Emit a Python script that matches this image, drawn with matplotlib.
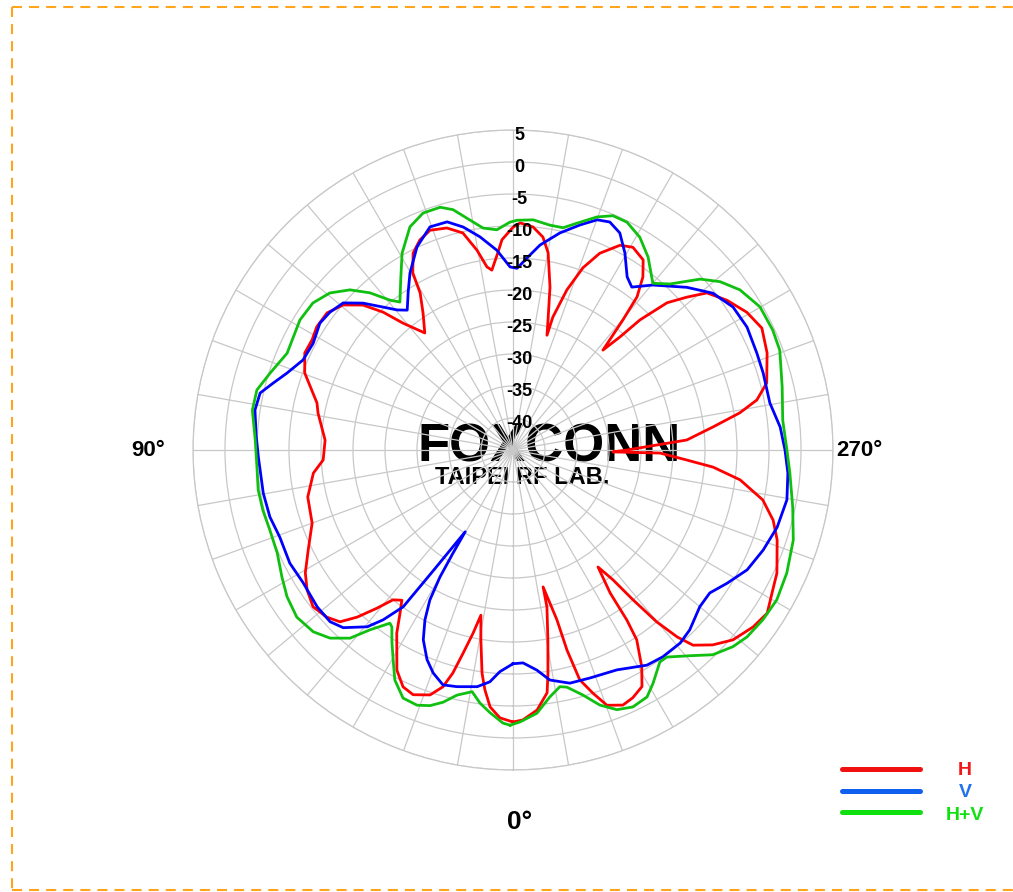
import numpy as np
import matplotlib
matplotlib.use('Agg')
import matplotlib.pyplot as plt
from matplotlib.lines import Line2D
from matplotlib.transforms import offset_copy

# Antenna pattern, angle in degrees, gain in dB
H_ANGLE = [0.0, 2.8, 5.1, 6.7, 7.9, 9.6, 11.0, 12.3, 13.8, 15.1,
           16.5, 18.7, 22.2, 24.9, 27.8, 32.4, 34.7, 36.5, 38.7, 40.7,
           43.0, 45.2, 48.1, 51.9, 55.8, 59.4, 64.0, 70.0, 77.1, 83.4,
           87.0, 93.0, 100.7, 103.5, 110.3, 115.0, 118.7, 122.1, 126.4, 130.5,
           134.0, 136.7, 139.1, 143.0, 146.7, 149.4, 150.5, 153.1, 156.1, 159.3,
           163.4, 167.0, 169.8, 171.9, 173.3, 175.6, 177.0, 180.0, 181.8, 185.1,
           188.0, 190.1, 192.8, 195.1, 196.5, 196.7, 198.6, 201.0, 203.8, 207.6,
           210.6, 214.4, 216.9, 219.0, 220.2, 222.0, 223.4, 224.3, 226.3, 228.7,
           231.0, 235.0, 239.5, 243.9, 249.1, 255.2, 258.4, 260.7, 263.4, 266.7,
           268.0, 270.0, 271.1, 271.2, 273.3, 274.9, 277.5, 281.3, 285.1, 288.8,
           295.0, 298.3, 302.7, 306.4, 310.8, 314.3, 317.3, 318.7, 320.1, 321.3,
           322.4, 324.0, 325.8, 326.2, 326.9, 329.3, 331.4, 334.2, 336.7, 339.8,
           341.8, 343.8, 344.9, 345.5, 347.6, 347.8, 349.6, 351.1, 352.0, 354.7,
           357.9, 360.0]
H_DB = [-2.5, -3.1, -4.7, -7.3, -9.8, -14.9, -18.7, -15.7, -12.3, -8.9,
        -6.4, -4.6, -3.7, -4.2, -6.1, -11.1, -14.0, -15.8, -15.0, -12.4,
        -9.3, -6.9, -5.9, -5.3, -6.1, -7.3, -9.4, -11.6, -12.1, -13.6,
        -15.3, -15.6, -14.0, -13.5, -10.3, -9.1, -9.2, -8.8, -8.9, -10.1,
        -12.4, -15.4, -18.8, -22.1, -19.4, -16.5, -13.2, -10.5, -9.1, -8.3,
        -8.8, -10.2, -13.3, -16.1, -16.7, -14.1, -12.1, -10.2, -9.5, -10.0,
        -11.4, -13.7, -18.9, -24.0, -26.3, -23.3, -18.6, -14.5, -11.4, -8.9,
        -8.2, -9.0, -11.2, -14.2, -18.4, -24.0, -20.7, -16.6, -11.7, -8.8,
        -6.0, -4.2, -2.6, -1.7, -2.5, -4.0, -6.1, -9.1, -13.5, -17.8,
        -22.5, -27.2, -29.4, -22.0, -17.8, -13.6, -9.2, -5.2, -2.9, -1.4,
        0.5, 1.1, 2.2, 1.6, 0.4, -1.4, -3.5, -6.1, -10.0, -15.0,
        -19.4, -22.4, -18.0, -13.0, -9.6, -5.6, -2.9, -2.0, -1.6, -2.5,
        -5.0, -7.6, -12.6, -17.6, -23.1, -19.9, -14.8, -9.7, -6.7, -4.2,
        -2.8, -2.5]

V_ANGLE = [0.0, 3.4, 5.7, 8.6, 13.3, 16.6, 19.7, 22.3, 25.3, 27.4,
           29.0, 29.9, 30.2, 30.3, 33.4, 35.0, 37.4, 39.5, 43.7, 46.8,
           51.3, 57.7, 63.1, 69.5, 74.6, 80.2, 88.4, 93.3, 98.8, 102.7,
           105.6, 108.8, 113.2, 118.1, 123.3, 127.0, 130.9, 134.4, 137.7, 140.4,
           142.9, 146.4, 149.8, 154.7, 159.6, 163.9, 167.4, 171.2, 175.4, 179.1,
           181.3, 184.2, 187.5, 192.2, 196.6, 200.1, 203.0, 206.2, 209.6, 213.4,
           216.1, 220.3, 226.9, 231.9, 237.0, 242.3, 248.3, 252.9, 259.6, 265.1,
           270.0, 274.8, 280.3, 286.3, 291.8, 297.1, 301.9, 306.0, 310.0, 315.5,
           319.1, 324.1, 328.1, 334.7, 341.3, 346.3, 350.9, 353.8, 357.3, 360.0]
V_DB = [-11.6, -10.3, -8.6, -7.6, -7.0, -6.7, -8.0, -9.6, -12.2, -15.1,
        -18.2, -22.1, -26.4, -30.2, -22.6, -15.1, -11.6, -9.2, -6.6, -5.8,
        -5.8, -6.2, -5.9, -6.1, -5.6, -5.4, -5.2, -4.8, -4.2, -4.5,
        -6.1, -7.7, -9.3, -9.6, -8.9, -9.2, -9.9, -12.2, -14.8, -16.6,
        -17.6, -15.4, -13.0, -9.9, -7.8, -7.9, -9.3, -11.3, -13.7, -16.4,
        -16.6, -14.9, -12.7, -10.3, -8.3, -6.7, -6.3, -7.2, -9.6, -12.6,
        -13.5, -11.2, -7.8, -5.3, -4.0, -3.7, -4.0, -4.1, -4.2, -3.1,
        -2.5, -1.9, -1.5, -2.0, -2.9, -3.9, -5.6, -7.0, -6.9, -5.6,
        -5.1, -5.1, -5.4, -7.0, -7.4, -7.5, -8.6, -10.4, -11.7, -11.6]

HV_ANGLE = [0.6, 2.1, 5.0, 7.4, 9.6, 12.9, 15.5, 18.0, 20.6, 23.9,
            27.2, 30.1, 32.2, 34.4, 35.4, 38.5, 40.9, 44.2, 47.7, 52.3,
            57.0, 61.2, 66.4, 71.8, 76.5, 81.1, 86.2, 92.2, 98.7, 103.2,
            107.6, 113.2, 121.4, 126.3, 130.6, 134.5, 137.7, 140.6, 142.6, 146.9,
            150.6, 155.2, 159.2, 163.3, 166.0, 168.8, 172.3, 175.8, 179.2, 181.0,
            185.0, 189.3, 192.7, 195.7, 199.8, 203.1, 206.6, 210.8, 215.0, 220.0,
            223.4, 227.6, 230.9, 234.8, 239.9, 245.2, 249.5, 256.8, 263.7, 270.0,
            274.7, 281.5, 287.8, 294.2, 299.6, 304.2, 308.6, 311.8, 315.7, 319.3,
            323.4, 325.3, 329.0, 331.5, 335.0, 338.2, 341.2, 344.1, 347.2, 348.8,
            351.5, 354.8, 358.5, 360.6]
HV_DB = [-2.0, -2.3, -3.8, -5.1, -6.7, -5.7, -4.1, -3.0, -2.4, -2.6,
         -4.6, -7.6, -9.5, -11.5, -11.8, -9.1, -6.1, -4.0, -2.8, -2.3,
         -2.9, -3.8, -4.8, -5.0, -4.8, -4.7, -4.9, -4.7, -3.8, -3.9,
         -5.2, -6.6, -6.0, -6.2, -7.3, -9.3, -11.8, -14.7, -15.9, -12.9,
         -9.7, -6.6, -5.4, -5.4, -6.3, -8.1, -10.0, -10.5, -9.4, -9.1,
         -8.9, -9.4, -9.4, -8.2, -6.3, -5.2, -5.2, -6.3, -8.2, -11.0,
         -9.3, -5.4, -3.3, -1.6, -0.4, -0.3, -0.5, -1.8, -2.6, -2.2,
         -1.6, -0.4, 1.0, 1.9, 2.4, 2.2, 1.8, 1.1, -0.3, -2.6,
         -4.7, -4.7, -2.5, -1.1, -0.7, -1.3, -2.9, -5.2, -7.0, -7.3,
         -6.0, -3.7, -2.5, -2.0]

R_TICKS = [5, 0, -5, -10, -15, -20, -25, -30, -35, -40]
ANGLE_LABELS = ['90°', '270°', '0°']

SERIES = [('H', H_ANGLE, H_DB, '#FF0000'),
          ('V', V_ANGLE, V_DB, '#0000FF'),
          ('H+V', HV_ANGLE, HV_DB, '#10C010')]

plt.rcParams['font.family'] = ['Liberation Sans', 'DejaVu Sans']

W, H = 1013, 892
fig = plt.figure(figsize=(W / 100, H / 100), dpi=100)
fig.patch.set_facecolor('white')

#--------------------------------------------------------------------------
# dashed orange frame
#
fx = lambda px: px / W
fy = lambda py: 1 - py / H
frame = dict(color='#FFA41C', lw=1.5, dashes=(4.8, 3.4), transform=fig.transFigure)
fig.add_artist(Line2D([fx(12), 1.0], [fy(7), fy(7)], **frame))
fig.add_artist(Line2D([fx(12), fx(12)], [fy(7), fy(890)], **frame))
fig.add_artist(Line2D([fx(12), 1.0], [fy(890), fy(890)], **frame))

#--------------------------------------------------------------------------
# polar plot
#
ax = fig.add_axes([fx(193), fy(770), 640 / W, 640 / H], projection='polar')
ax.set_theta_zero_location('S')
ax.set_theta_direction(-1)
ax.set_ylim(-45, 5)
ax.set_yticks(np.arange(-45, 6, 5))
ax.set_yticklabels([])
ax.set_xticks(np.radians(np.arange(0, 360, 10)))
ax.set_xticklabels([])
ax.set_axisbelow(True)
ax.grid(True, color='#C8C8C8', lw=0.9)
ax.spines['polar'].set_color('#C8C8C8')
ax.spines['polar'].set_linewidth(0.9)

for name, ang, db, col in SERIES:
    ax.plot(np.radians(ang), db, color=col, lw=2.0, zorder=3)

# radial scale along the top spoke
lbl_tr = offset_copy(ax.transData, fig=fig, x=6, y=-5, units='dots')
for v in R_TICKS:
    ax.text(np.pi, v, str(v), transform=lbl_tr, ha='center', va='center',
            fontsize=13, fontweight='bold', color='black', zorder=4)

# watermark (under the grid)
ax.text(fx(549), fy(461), 'FOXCONN', transform=fig.transFigure, ha='center',
        va='baseline', fontsize=38, fontweight='bold', color='black', zorder=0.1)
ax.text(fx(522), fy(484), 'TAIPEI RF LAB.', transform=fig.transFigure, ha='center',
        va='baseline', fontsize=17, fontweight='bold', color='black', zorder=0.1)

# angle labels
fig.text(fx(148), fy(456), ANGLE_LABELS[0], ha='center', va='baseline',
         fontsize=16, fontweight='bold')
fig.text(fx(836), fy(456), ANGLE_LABELS[1], ha='left', va='baseline',
         fontsize=16, fontweight='bold')
fig.text(fx(520), fy(829), ANGLE_LABELS[2], ha='center', va='baseline',
         fontsize=19, fontweight='bold')

#--------------------------------------------------------------------------
# legend
#
leg_rows = [(769, 775, '#F01010', '#F01818'),
            (791, 797, '#1060F0', '#2070F0'),
            (812, 820, '#10E010', '#10E010')]
for (ly, ty, lc, tc), (name, _, _, _) in zip(leg_rows, SERIES):
    fig.add_artist(Line2D([fx(842), fx(920)], [fy(ly), fy(ly)], color=lc, lw=3.6,
                          solid_capstyle='round', transform=fig.transFigure))
    fig.text(fx(965), fy(ty), name, color=tc, ha='center', va='baseline',
             fontsize=14, fontweight='bold')

fig.savefig('out.png', dpi=100)
